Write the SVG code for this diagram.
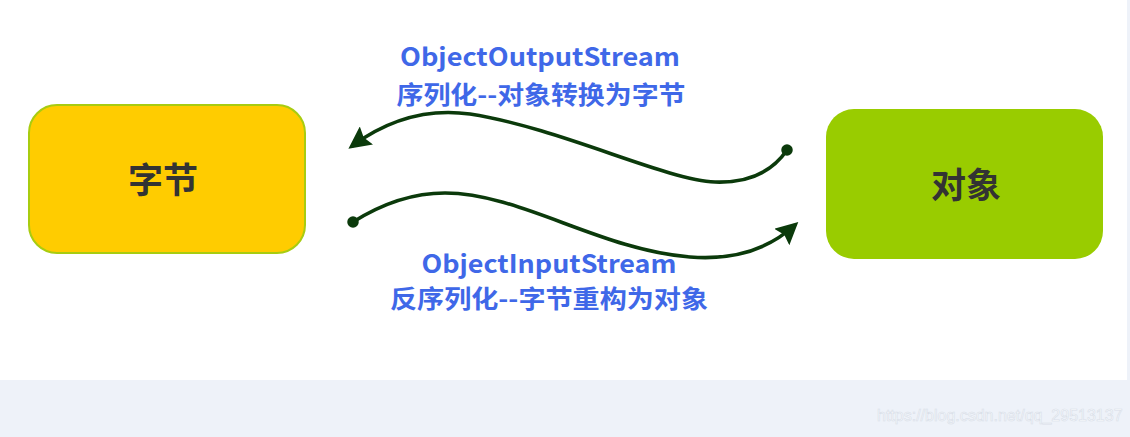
<svg xmlns="http://www.w3.org/2000/svg" width="1130" height="437" viewBox="0 0 1130 437">
<style>
.lbl{font-family:"Noto Sans CJK SC","Noto Sans",sans-serif;font-weight:bold;font-size:25px;fill:#3F68E8;text-anchor:middle}
.node{font-family:"Noto Sans CJK SC",sans-serif;font-weight:bold;font-size:35px;fill:#333333;text-anchor:middle}
.wire{fill:none;stroke:#0B3A0B;stroke-width:3.6}
</style>
<defs>
<marker id="arr" viewBox="0 0 10 10" refX="8" refY="5" markerWidth="6.2" markerHeight="6.2" markerUnits="strokeWidth" orient="auto">
<path d="M0,0 L10,5 L0,10 L1.5,5 z" fill="#0B3A0B"/>
</marker>
<marker id="dot" viewBox="0 0 10 10" refX="5" refY="5" markerWidth="3.2" markerHeight="3.2" markerUnits="strokeWidth">
<circle cx="5" cy="5" r="5" fill="#0B3A0B"/>
</marker>
</defs>
<rect x="0" y="0" width="1130" height="437" fill="#EEF2F9"/>
<rect x="0" y="0" width="1127" height="380" fill="#FFFFFF"/>
<g id="node-bytes">
<rect x="29" y="105" width="276" height="148" rx="28" fill="#FFCC00" stroke="#A8CC10" stroke-width="2"/>
<text class="node" x="163" y="193">字节</text>
</g>
<g id="node-object">
<rect x="826" y="109" width="277" height="150" rx="28" fill="#99CC00"/>
<text class="node" x="966" y="198">对象</text>
</g>
<g id="connectors">
<path class="wire" d="M787,150 C770,175 745,183 715,182 C665,180 560,128 470,114 C420,107 382,124 352,146" marker-start="url(#dot)" marker-end="url(#arr)"/>
<path class="wire" d="M353,222 C380,205 410,193 445,193 C520,193 600,250 690,257 C740,261 772,246 795,225" marker-start="url(#dot)" marker-end="url(#arr)"/>
</g>
<g id="labels">
<text class="lbl" x="540" y="66" textLength="280" lengthAdjust="spacingAndGlyphs">ObjectOutputStream</text>
<text class="lbl" x="541" y="104" textLength="289" lengthAdjust="spacingAndGlyphs">序列化--对象转换为字节</text>
<text class="lbl" x="549" y="273" textLength="255" lengthAdjust="spacingAndGlyphs">ObjectInputStream</text>
<text class="lbl" x="549" y="308" textLength="318" lengthAdjust="spacingAndGlyphs">反序列化--字节重构为对象</text>
</g>
<text x="877" y="421" font-family="Liberation Sans, sans-serif" font-size="16" fill="#F8FAFD" stroke="#D8DEE8" stroke-width="0.6">https://blog.csdn.net/qq_29513137</text>
</svg>
